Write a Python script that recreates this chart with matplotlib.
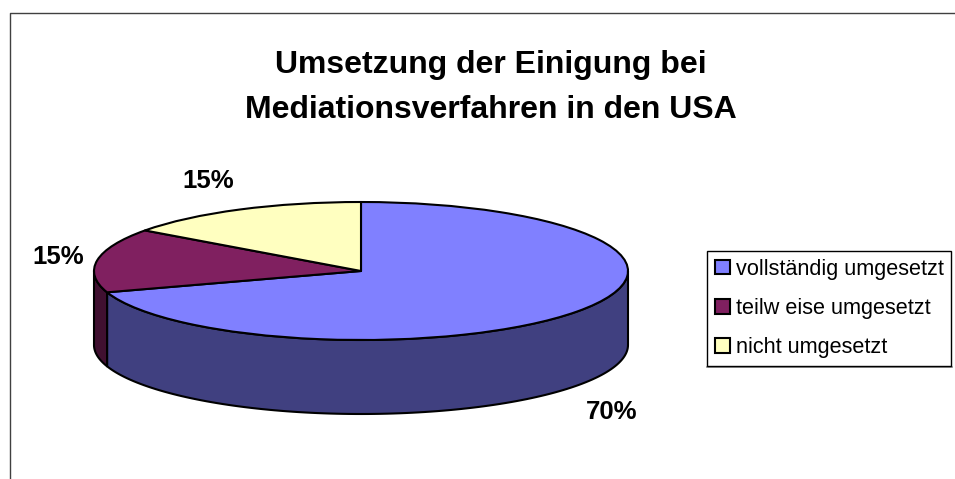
"""Umsetzung der Einigung: 3D-artige Torte, aus Ellipsen und Seitenflaechen gebaut."""

import matplotlib
matplotlib.use("Agg")
import matplotlib.pyplot as plt
import numpy as np
from matplotlib.patches import Patch, Polygon, Wedge
from matplotlib.transforms import Affine2D

plt.rcParams["font.family"] = ["Liberation Sans", "DejaVu Sans"]

TITEL = "Umsetzung der Einigung bei\nMediationsverfahren in den USA"
KATEGORIEN = ["vollständig umgesetzt", "teilw eise umgesetzt", "nicht umgesetzt"]
WERTE = [70, 15, 15]
FARBEN = ["#8080FF", "#802060", "#FFFFC0"]
FARBEN_SEITE = ["#404080", "#401030", "#808060"]

B, H = 955, 479
CX, CY = 361, H - 271   # Mitte der Ellipse (Pixel, y nach oben)
RX, RY = 267, 69
TIEFE = 74
LINIE = 1.5


def punkte(t1, t2):
    t = np.radians(np.linspace(t1, t2, 120))
    return np.column_stack([CX + RX * np.cos(t), CY + RY * np.sin(t)])


fig = plt.figure(figsize=(B / 100, H / 100), dpi=100)
ax = fig.add_axes([0, 0, 1, 1])
ax.set_xlim(0, B)
ax.set_ylim(0, H)
ax.axis("off")

# Rahmen der Grafik (nur oben und links sichtbar)
ax.plot([9.5, 9.5, B], [0, H - 12.5, H - 12.5], color="#404040", lw=1.0)

# Winkel: Start bei 12 Uhr, im Uhrzeigersinn
summen = np.cumsum([0] + WERTE)
winkel = [(90 - 360 * summen[i + 1] / 100, 90 - 360 * summen[i] / 100)
          for i in range(len(WERTE))]

# Seitenflaechen: nur die vordere Haelfte (-180 bis 0 Grad)
for (t1, t2), farbe in zip(winkel, FARBEN_SEITE):
    a, b = max(t1, -180), min(t2, 0)
    if a >= b:
        continue
    oben = punkte(a, b)
    unten = oben[::-1] - [0, TIEFE]
    ax.add_patch(Polygon(np.vstack([oben, unten]), closed=True, facecolor=farbe,
                         edgecolor="black", lw=LINIE, joinstyle="round"))

# Deckel
stauchung = Affine2D().scale(1, RY / RX).translate(CX, CY) + ax.transData
for (t1, t2), farbe in zip(winkel, FARBEN):
    ax.add_patch(Wedge((0, 0), RX, t1, t2, facecolor=farbe, edgecolor="black",
                       lw=LINIE, transform=stauchung, joinstyle="round"))

ax.text(491, H - 87.5, TITEL, ha="center", va="center", fontsize=23,
        fontweight="bold", linespacing=1.66)

# Beschriftung der Anteile
for wert, x, y in zip(WERTE, [612, 58, 208], [412, 257, 181]):
    ax.text(x, H - y, f"{wert}%", ha="center", va="center", fontsize=18.5,
            fontweight="bold")

griffe = [Patch(facecolor=f, edgecolor="black", lw=LINIE) for f in FARBEN]
leg = ax.legend(griffe, KATEGORIEN, loc="center", ncol=1, fontsize=15.6,
                bbox_to_anchor=(707, H - 366, 244, 115), bbox_transform=ax.transData,
                mode="expand", fancybox=False, framealpha=1, edgecolor="black",
                borderaxespad=0, handlelength=0.68, handleheight=0.68,
                handletextpad=0.28, labelspacing=0.85, borderpad=0.37)
leg.get_frame().set_linewidth(1.0)
ax.plot([707, 952], [H - 367, H - 367], color="#808080", lw=1.2)

fig.savefig("out.png", dpi=100)
